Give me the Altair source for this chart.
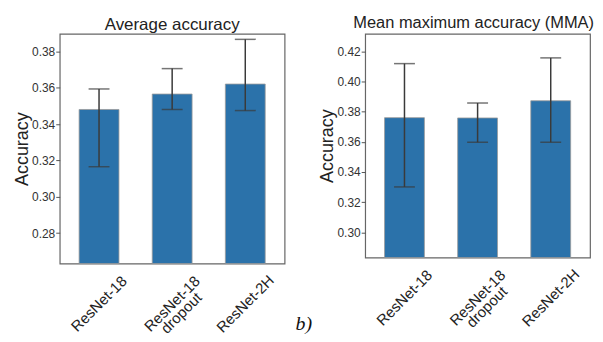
import altair as alt
import pandas as pd

models = ["ResNet-18", "ResNet-18\ndropout", "ResNet-2H"]

avg_mean = [0.348, 0.3565, 0.362]
avg_low = [0.3165, 0.348, 0.3474]
avg_high = [0.3593, 0.3705, 0.3866]

mma_mean = [0.376, 0.3758, 0.3872]
mma_low = [0.3301, 0.3597, 0.3597]
mma_high = [0.4118, 0.3857, 0.4156]

avg_ticks = [0.28, 0.30, 0.32, 0.34, 0.36, 0.38]
mma_ticks = [0.30, 0.32, 0.34, 0.36, 0.38, 0.40, 0.42]

BAR = "#2b72aa"
ERR = "#3a3a3a"
FONT = "Liberation Sans"


def panel(mean, low, high, title, domain, ticks, height, title_offset, title_size, title_dx):
    df = pd.DataFrame({"model": models, "mean": mean, "low": low, "high": high})
    xaxis = alt.Axis(
        title=None,
        labelAngle=-45,
        labelAlign="center",
        labelBaseline="middle",
        labelPadding=40,
        ticks=False,
        tickSize=0,
        domain=False,
        labelFont=FONT,
        labelFontSize=15,
        labelColor="#222",
        labelLineHeight=13,
        labelExpr="split(datum.label, '\\n')",
        labelOverlap=False,
        labelBound=False,
    )
    yaxis = alt.Axis(
        title="Accuracy",
        values=ticks,
        format=".2f",
        grid=False,
        domain=False,
        tickSize=4,
        tickColor="#555",
        labelPadding=1,
        labelFont=FONT,
        labelFontSize=12,
        labelColor="#333",
        labelOverlap=False,
        labelSeparation=0,
        titleFont=FONT,
        titleFontSize=18,
        titleFontWeight="normal",
        titleColor="#222",
        titlePadding=0,
    )
    xscale = alt.Scale(paddingInner=0.455, paddingOuter=0.265)
    yscale = alt.Scale(domain=domain, nice=False, zero=False)
    xs = alt.X("model:N", sort=models, scale=xscale, axis=xaxis)
    bars = alt.Chart(df).mark_bar(
        color=BAR, stroke="#9a9a9a", strokeWidth=0.8
    ).encode(
        x=xs,
        y=alt.Y("mean:Q", scale=yscale, axis=yaxis),
        y2=alt.Y2(datum=domain[0]),
    )
    rule = alt.Chart(df).mark_rule(color=ERR, strokeWidth=1.5).encode(
        x=xs,
        y=alt.Y("low:Q", scale=yscale, axis=yaxis),
        y2="high:Q",
    )
    cap_lo = alt.Chart(df).mark_tick(color=ERR, thickness=1.5, size=21).encode(
        x=xs,
        y=alt.Y("low:Q", scale=yscale, axis=yaxis),
    )
    cap_hi = alt.Chart(df).mark_tick(color=ERR, thickness=1.5, size=21).encode(
        x=xs,
        y=alt.Y("high:Q", scale=yscale, axis=yaxis),
    )
    return alt.layer(bars, rule, cap_lo, cap_hi).properties(
        width=226,
        height=height,
        title=alt.TitleParams(
            title,
            font=FONT,
            fontSize=title_size,
            fontWeight="normal",
            color="#222",
            anchor="middle",
            offset=title_offset,
            dx=title_dx,
        ),
    )


left = panel(avg_mean, avg_low, avg_high, "Average accuracy", [0.2632, 0.3897], avg_ticks, 231, 0, 17, 0)
right = panel(mma_mean, mma_low, mma_high, "Mean maximum accuracy (MMA)", [0.2833, 0.4316], mma_ticks, 225, 2, 16.5, -4)

chart = (
    alt.hconcat(left, right, spacing=33)
    .properties(
        padding={"left": 5, "top": 5, "right": 0, "bottom": 0},
        title=alt.TitleParams(
            "b)",
            orient="bottom",
            anchor="middle",
            font="Liberation Serif",
            fontStyle="italic",
            fontSize=20,
            fontWeight="normal",
            color="#111",
            offset=-30,
        ),
    )
    .configure_view(stroke="#666", strokeWidth=1.2)
)

chart.save("out.html", embed_options={"renderer": "svg", "actions": False})
